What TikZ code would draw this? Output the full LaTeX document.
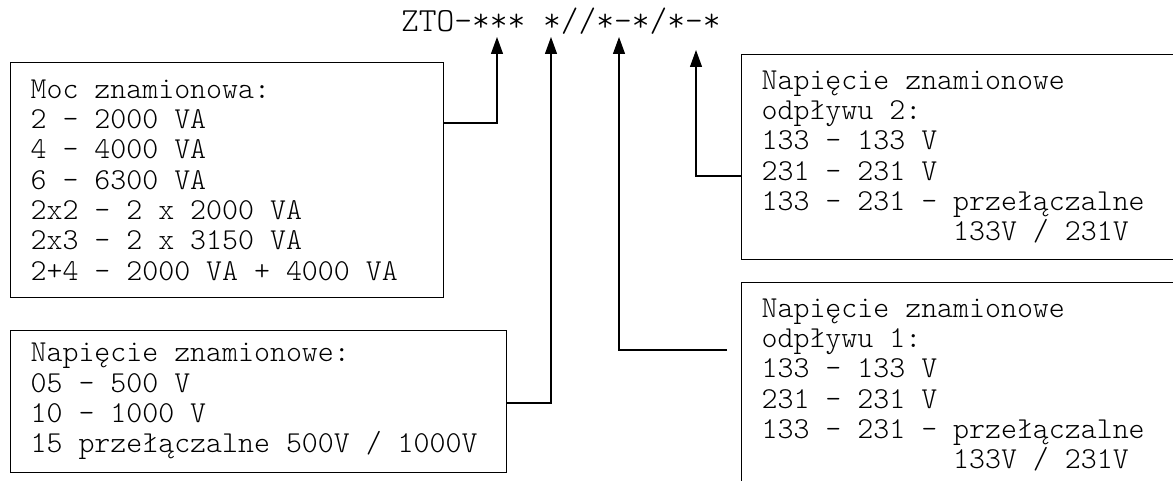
\documentclass[tikz,border=0pt]{standalone}
\usepackage{fontspec}
\newfontfamily\lmlight{lmmonolt10-regular.otf}
\usetikzlibrary{arrows.meta,calc}
\newcommand\monosz[2]{\lmlight\fontsize{#1}{#2}\selectfont}
\newcommand\fixsp{\spaceskip=\fontcharwd\font`0\relax\xspaceskip=\spaceskip}
\begin{document}
\begin{tikzpicture}[x=1pt,y=-1pt,
  boxtext/.style={draw, line width=1.3pt, anchor=north west, align=left,
    font=\monosz{30.4}{30.3}, inner xsep=20pt, inner ysep=0pt},
  conn/.style={line width=1.2pt, -{Triangle[length=17pt,width=12pt]}}]
\useasboundingbox (0,0) rectangle (1173,481);
\clip (0,0) rectangle (1173,481);
\node[anchor=base west, inner sep=0pt, font=\monosz{33.8}{35}] (title) at (401,32) {ZTO-*** *//*-*/*-*};
\node[boxtext, text width=393pt, minimum height=235pt] (moc) at (10,62)
  {\fixsp Moc znamionowa:\\2 – 2000 VA\\4 – 4000 VA\\6 – 6300 VA\\2x2 – 2 x 2000 VA\\2x3 – 2 x 3150 VA\\2+4 – 2000 VA + 4000 VA};
\node[boxtext, text width=456pt, minimum height=142pt] (nap) at (10,330)
  {\fixsp Napięcie znamionowe:\\05 – 500 V\\10 – 1000 V\\15 przełączalne 500V / 1000V};
\node[boxtext, text width=404pt, minimum height=205pt] (odp2) at (741,54)
  {\fixsp Napięcie znamionowe\\odpływu 2:\\133 – 133 V\\231 – 231 V\\133 – 231 – przełączalne\\\phantom{133 – 231 – }133V / 231V};
\node[boxtext, text width=404pt, minimum height=205pt] (odp1) at (741,282)
  {\fixsp Napięcie znamionowe\\odpływu 1:\\133 – 133 V\\231 – 231 V\\133 – 231 – przełączalne\\\phantom{133 – 231 – }133V / 231V};
\coordinate (t1) at (497,37);
\coordinate (t2) at (551,37);
\coordinate (t3) at (619,37);
\coordinate (t4) at (696,50);
\coordinate (c3) at ($(odp1.north west)+(-14,68)$);
\draw[conn] ($(moc.north east)+(0,61)$) -| (t1);
\draw[conn] ($(nap.north east)+(0,73)$) -| (t2);
\draw[conn] (c3) -| (t3);
\draw[conn] ($(odp2.north west)+(0,122)$) -| (t4);
\end{tikzpicture}
\end{document}
